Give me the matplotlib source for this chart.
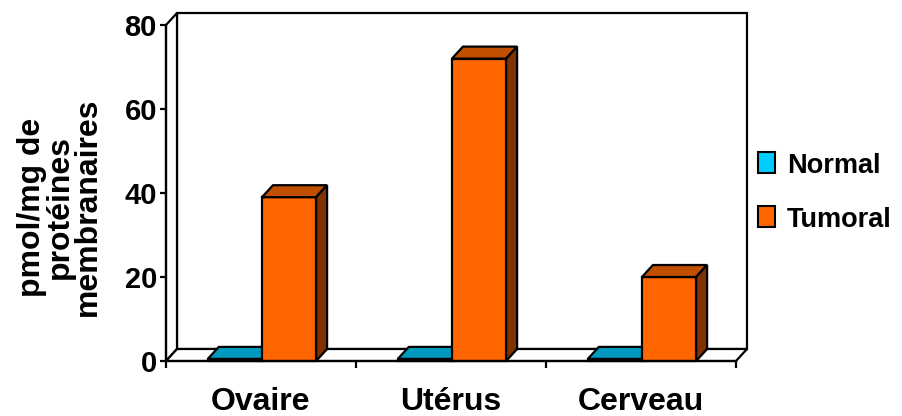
import matplotlib
matplotlib.use("Agg")
import matplotlib.pyplot as plt
from matplotlib import font_manager
from matplotlib.patches import Polygon, Rectangle

# Données : récepteurs (pmol/mg de protéines membranaires)
categories = ["Ovaire", "Utérus", "Cerveau"]
series_names = ["Normal", "Tumoral"]
normal = [0.5, 0.5, 0.5]
tumoral = [39, 72, 20]
y_ticks = [0, 20, 40, 60, 80]
y_label = "pmol/mg de\nprotéines\nmembranaires"

# couleurs : face avant, dessus, côté
colors = {
    "Normal": ("#00CCFF", "#0099BF", "#006680"),
    "Tumoral": ("#FF6600", "#C04F00", "#803300"),
}

plt.rcParams['font.family'] = ['Liberation Sans', 'DejaVu Sans']
plt.rcParams['font.weight'] = 'bold'

installed = {f.name for f in font_manager.fontManager.ttflist}
if "Liberation Sans Narrow" in installed:
    legend_font = dict(family=["Liberation Sans Narrow", "DejaVu Sans"], fontsize=24)
else:
    legend_font = dict(fontsize=19.5)

W, H = 902, 416
fig = plt.figure(figsize=(W / 100, H / 100), dpi=100)
ax = fig.add_axes([166 / W, 55 / H, 570 / W, 336 / H])
ax.set_xlim(0, len(categories))
ax.set_ylim(0, 80)

# profondeur de l'effet 3D (pixels -> unités de données)
x_per_px = len(categories) / 570
y_per_px = 80 / 336
dx, dy = 11 * x_per_px, 12 * y_per_px

lw = 1.6
xmax, ymax = len(categories), 80

# murs et plancher
walls = [
    [(dx, dy), (xmax + dx, dy), (xmax + dx, ymax + dy), (dx, ymax + dy)],
    [(0, 0), (dx, dy), (dx, ymax + dy), (0, ymax)],
    [(0, 0), (xmax, 0), (xmax + dx, dy), (dx, dy)],
]
for pts in walls:
    ax.add_patch(Polygon(pts, closed=True, facecolor="white", edgecolor="black",
                         lw=lw, clip_on=False, zorder=1, joinstyle="miter"))


def bar3d(x0, width, value, front, top, side):
    x1 = x0 + width
    faces = [
        ([(x0, 0), (x1, 0), (x1, value), (x0, value)], front),
        ([(x0, value), (x1, value), (x1 + dx, value + dy), (x0 + dx, value + dy)], top),
        ([(x1, 0), (x1 + dx, dy), (x1 + dx, value + dy), (x1, value)], side),
    ]
    for pts, c in faces:
        ax.add_patch(Polygon(pts, closed=True, facecolor=c, edgecolor="black",
                             lw=lw, clip_on=False, zorder=3, joinstyle="miter"))


bar_w = 0.285
start = 0.22
for i in range(len(categories)):
    for j, (name, vals) in enumerate(zip(series_names, [normal, tumoral])):
        bar3d(i + start + j * bar_w, bar_w, vals[i], *colors[name])

# axes
for s in ["top", "right"]:
    ax.spines[s].set_visible(False)
for s in ["left", "bottom"]:
    ax.spines[s].set_linewidth(lw)
    ax.spines[s].set_zorder(5)
ax.patch.set_visible(False)

ax.set_yticks(y_ticks)
ax.tick_params(axis="y", direction="out", length=4.5, width=lw, pad=2, labelsize=21)
ax.set_xticks(range(len(categories) + 1))
ax.set_xticklabels([])
ax.tick_params(axis="x", which="major", direction="out", length=5, width=lw)
ax.set_xticks([i + 0.5 for i in range(len(categories))], minor=True)
ax.set_xticklabels(categories, minor=True, fontsize=23)
ax.tick_params(axis="x", which="minor", length=0, pad=19)

fig.text(60 / W, 1 - 207 / H, y_label, rotation=90, ha="center", va="center",
         fontsize=23, linespacing=0.9, multialignment="center")

# légende
for k, name in enumerate(series_names):
    base = 173 + k * 54
    fig.add_artist(Rectangle((758 / W, 1 - base / H), 17 / W, 21 / H,
                             transform=fig.transFigure, facecolor=colors[name][0],
                             edgecolor="black", lw=1.5))
    fig.text(787 / W, 1 - base / H, name, ha="left", va="baseline", **legend_font)

fig.savefig("out.png", dpi=100)
